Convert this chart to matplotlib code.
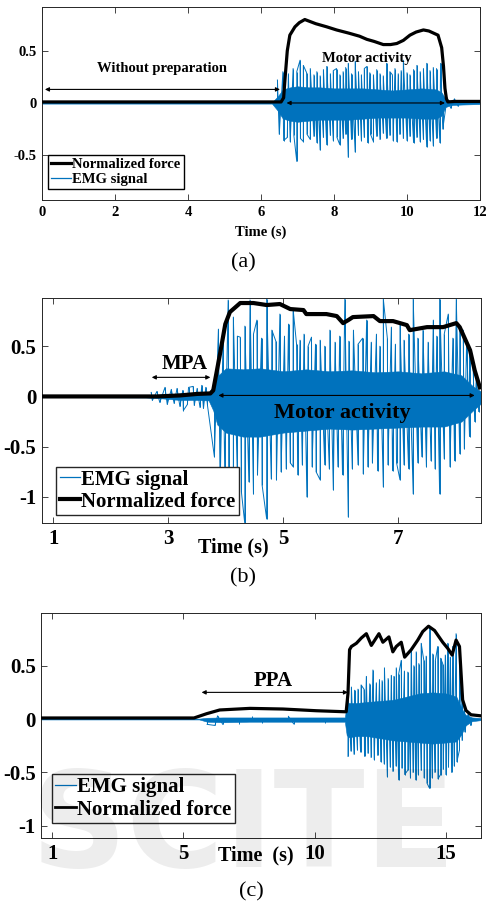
import numpy as np
import matplotlib
matplotlib.use('Agg')
import matplotlib.pyplot as plt
from matplotlib.lines import Line2D

plt.rcParams['font.family'] = ['Liberation Serif', 'DejaVu Serif']
plt.rcParams['axes.unicode_minus'] = False

EMG_COLOR = '#0072BD'
W, H = 486, 907

# ---------------- panel (a) ----------------
force_t_a = [0, 6.55, 6.62, 6.66, 6.72, 6.79, 6.93, 7.05, 7.2, 7.5, 7.8, 8.07, 8.4, 8.7, 8.9, 9.1,
             9.35, 9.55, 9.72, 9.9, 10.08, 10.25, 10.45, 10.6, 10.85, 10.95, 11.0, 11.04, 11.08,
             11.12, 11.3, 12.0]
force_v_a = [0.01, 0.01, 0.05, 0.24, 0.50, 0.65, 0.73, 0.77, 0.80, 0.76, 0.73, 0.70, 0.67, 0.64,
             0.61, 0.59, 0.56, 0.56, 0.57, 0.60, 0.65, 0.68, 0.70, 0.69, 0.65, 0.53, 0.35, 0.14,
             0.04, 0.01, 0.015, 0.015]
env_t_a = [0.0, 6.3, 6.45, 6.6, 6.8, 7.0, 7.3, 7.6, 8.0, 8.4, 8.8, 9.2, 9.6, 10.0, 10.4, 10.8,
           10.95, 11.05, 11.2, 11.5, 12.0]
env_hi_a = [0.006, 0.006, 0.06, 0.13, 0.15, 0.16, 0.15, 0.15, 0.14, 0.14, 0.14, 0.13, 0.12, 0.13,
            0.14, 0.13, 0.10, 0.04, 0.02, 0.015, 0.01]
env_lo_a = [-0.006, -0.006, -0.07, -0.15, -0.17, -0.18, -0.17, -0.16, -0.16, -0.16, -0.15, -0.14,
            -0.14, -0.14, -0.15, -0.15, -0.12, -0.04, -0.02, -0.015, -0.01]
spikes_a = [(6.45, 0.22), (6.6, 0.30), (6.75, 0.28), (6.88, 0.33), (6.98, 0.30), (7.07, 0.41),
            (7.16, 0.36), (7.25, 0.29), (7.35, 0.33), (7.45, 0.27), (7.53, 0.30), (7.62, 0.26),
            (7.71, 0.32), (7.8, 0.35), (7.9, 0.28), (7.98, 0.31), (8.07, 0.33), (8.16, 0.27),
            (8.25, 0.30), (8.32, 0.34), (8.39, 0.38), (8.48, 0.28), (8.58, 0.40), (8.67, 0.30),
            (8.75, 0.27), (8.83, 0.33), (8.9, 0.35), (8.98, 0.29), (9.08, 0.27), (9.17, 0.32),
            (9.26, 0.28), (9.35, 0.26), (9.44, 0.38), (9.53, 0.30), (9.6, 0.27), (9.67, 0.33),
            (9.76, 0.28), (9.84, 0.31), (9.9, 0.41), (10.0, 0.29), (10.08, 0.27), (10.18, 0.32),
            (10.27, 0.36), (10.36, 0.30), (10.45, 0.33), (10.54, 0.38), (10.63, 0.31),
            (10.72, 0.34), (10.81, 0.33), (10.92, 0.38),
            (6.5, -0.30), (6.62, -0.36), (6.72, -0.33), (6.8, -0.37), (6.9, -0.31), (6.98, -0.56),
            (7.08, -0.34), (7.16, -0.37), (7.26, -0.30), (7.35, -0.35), (7.45, -0.32), (7.53, -0.38),
            (7.62, -0.45), (7.71, -0.33), (7.8, -0.40), (7.9, -0.31), (7.98, -0.36), (8.08, -0.33),
            (8.16, -0.40), (8.25, -0.34), (8.32, -0.30), (8.39, -0.52), (8.48, -0.35), (8.58, -0.47),
            (8.67, -0.31), (8.75, -0.36), (8.83, -0.33), (8.92, -0.38), (9.0, -0.30), (9.08, -0.37),
            (9.17, -0.32), (9.26, -0.35), (9.35, -0.29), (9.44, -0.34), (9.53, -0.31), (9.62, -0.36),
            (9.72, -0.37), (9.8, -0.30), (9.9, -0.34), (10.0, -0.36), (10.08, -0.32), (10.18, -0.38),
            (10.27, -0.33), (10.36, -0.37), (10.45, -0.35), (10.54, -0.42), (10.63, -0.36),
            (10.72, -0.41), (10.81, -0.34), (10.9, -0.38), (10.98, -0.25),
            (11.1, 0.05), (11.2, -0.05), (11.3, 0.04), (11.4, -0.03)]

# ---------------- panel (b) ----------------
force_t_b = [0.8, 2.8, 3.2, 3.5, 3.73, 3.78, 3.9, 3.99, 4.07, 4.25, 4.48, 4.71, 4.94, 5.12, 5.35,
             5.4, 5.75, 5.93, 6.04, 6.13, 6.21, 6.57, 6.68, 6.91, 7.15, 7.2, 7.5, 7.78, 8.01, 8.07,
             8.25, 8.33, 8.42]
force_v_b = [0.0, 0.0, 0.01, 0.025, 0.03, 0.06, 0.43, 0.72, 0.84, 0.93, 0.93, 0.91, 0.92, 0.87,
             0.86, 0.82, 0.82, 0.80, 0.73, 0.76, 0.79, 0.80, 0.75, 0.75, 0.71, 0.66, 0.69, 0.69,
             0.73, 0.69, 0.46, 0.26, 0.09]
env_t_b = [0.8, 2.6, 2.9, 3.2, 3.5, 3.7, 3.78, 3.85, 4.0, 4.3, 4.6, 5.0, 5.4, 5.8, 6.2, 6.6, 7.0,
           7.4, 7.8, 8.1, 8.3, 8.44]
env_hi_b = [0.006, 0.01, 0.02, 0.03, 0.035, 0.035, 0.1, 0.2, 0.28, 0.27, 0.28, 0.25, 0.27, 0.25,
            0.26, 0.24, 0.25, 0.23, 0.25, 0.21, 0.1, 0.05]
env_lo_b = [-0.006, -0.01, -0.02, -0.035, -0.035, -0.04, -0.14, -0.28, -0.36, -0.40, -0.40, -0.36,
            -0.34, -0.32, -0.33, -0.32, -0.31, -0.30, -0.30, -0.25, -0.14, -0.07]
spikes_b = [(2.7, 0.04), (2.8, 0.05), (2.94, 0.09), (3.05, 0.07), (3.15, 0.08), (3.25, 0.06),
            (3.35, 0.09), (3.43, 0.10), (3.5, 0.08), (3.58, 0.11), (3.65, 0.09),
            (2.72, -0.04), (2.85, -0.06), (2.98, -0.08), (3.1, -0.07), (3.2, -0.10), (3.26, -0.14),
            (3.33, -0.08), (3.45, -0.09), (3.55, -0.11), (3.61, -0.12), (3.68, -0.09),
            (3.87, 0.67), (3.95, 0.55), (4.04, 0.96), (4.13, 0.79), (4.2, 0.60), (4.25, 0.59),
            (4.33, 0.70), (4.42, 0.96), (4.48, 0.62), (4.54, 0.76), (4.62, 0.58), (4.71, 0.97),
            (4.80, 0.66), (4.87, 0.55), (4.94, 0.82), (5.02, 0.60), (5.09, 0.72), (5.17, 0.87),
            (5.23, 0.52), (5.29, 0.56), (5.36, 0.62), (5.43, 0.50), (5.49, 0.59), (5.56, 0.52),
            (5.64, 0.56), (5.72, 0.50), (5.81, 0.66), (5.9, 0.54), (5.98, 0.60), (6.07, 0.97),
            (6.14, 0.55), (6.22, 0.66), (6.3, 0.52), (6.38, 0.58), (6.45, 0.76), (6.53, 0.54),
            (6.62, 0.62), (6.68, 0.50), (6.74, 0.97), (6.81, 0.58), (6.88, 0.69), (6.95, 0.52),
            (7.03, 0.72), (7.1, 0.56), (7.18, 0.62), (7.26, 0.97), (7.34, 0.58), (7.43, 0.66),
            (7.52, 0.54), (7.61, 0.76), (7.67, 0.60), (7.72, 0.97), (7.8, 0.62), (7.87, 0.82),
            (7.95, 0.58), (8.01, 0.97), (8.07, 0.66), (8.13, 0.66), (8.19, 0.55), (8.24, 0.49),
            (8.3, 0.35), (8.36, 0.23),
            (3.80, -0.6), (3.9, -0.90), (3.98, -0.75), (4.05, -0.85), (4.13, -1.13), (4.2, -0.80),
            (4.27, -0.95), (4.33, -1.27), (4.4, -0.85), (4.48, -0.97), (4.55, -0.78), (4.63, -0.88),
            (4.71, -1.22), (4.79, -0.82), (4.88, -0.83), (4.96, -0.75), (5.05, -0.72), (5.12, -0.66),
            (5.17, -0.70), (5.25, -0.78), (5.33, -0.68), (5.41, -1.0), (5.5, -0.70), (5.57, -0.75),
            (5.64, -0.83), (5.72, -0.68), (5.8, -0.72), (5.87, -0.93), (5.95, -0.70), (6.03, -0.78),
            (6.13, -1.20), (6.2, -0.72), (6.3, -0.68), (6.39, -0.77), (6.47, -0.70), (6.55, -0.66),
            (6.64, -0.74), (6.74, -0.90), (6.82, -0.68), (6.9, -0.74), (6.97, -0.66), (7.03, -0.83),
            (7.1, -0.68), (7.18, -0.72), (7.26, -0.97), (7.34, -0.66), (7.41, -0.60), (7.49, -0.70),
            (7.57, -0.64), (7.64, -0.72), (7.72, -0.97), (7.8, -0.62), (7.9, -0.70), (7.98, -0.64),
            (8.07, -0.57), (8.15, -0.52), (8.24, -0.40), (8.33, -0.25), (8.4, -0.15)]

# ---------------- panel (c) ----------------
force_t_c = [-0.42, 5.4, 5.88, 6.38, 7.53, 8.79, 10.06, 11.2, 11.27, 11.33, 11.4, 11.59, 11.78,
             11.97, 12.16, 12.45, 12.6, 12.83, 12.98, 13.11, 13.3, 13.43, 13.68, 13.93, 14.12,
             14.34, 14.57, 14.88, 15.08, 15.24, 15.39, 15.52, 15.64, 15.77, 15.96, 16.34]
force_v_c = [0.01, 0.01, 0.05, 0.085, 0.10, 0.094, 0.078, 0.068, 0.24, 0.65, 0.68, 0.71, 0.76,
             0.80, 0.69, 0.80, 0.72, 0.77, 0.63, 0.68, 0.72, 0.58, 0.65, 0.74, 0.82, 0.87, 0.83,
             0.72, 0.66, 0.60, 0.74, 0.68, 0.18, 0.08, 0.04, 0.03]
env_t_c = [-0.42, 5.6, 5.9, 6.5, 7.5, 8.5, 9.5, 10.5, 11.15, 11.22, 11.3, 11.6, 12.0, 12.5, 13.0,
           13.5, 14.0, 14.5, 15.0, 15.4, 15.6, 15.75, 16.0, 16.34]
env_hi_c = [0.004, 0.004, 0.012, 0.015, 0.015, 0.015, 0.015, 0.015, 0.015, 0.13, 0.15, 0.15, 0.16,
            0.17, 0.18, 0.21, 0.24, 0.25, 0.24, 0.21, 0.1, 0.04, 0.015, 0.01]
env_lo_c = [-0.004, -0.004, -0.025, -0.03, -0.025, -0.025, -0.025, -0.025, -0.025, -0.15, -0.17,
            -0.16, -0.16, -0.18, -0.20, -0.21, -0.22, -0.23, -0.22, -0.21, -0.14, -0.06, -0.02, -0.01]
spikes_c = [(5.9, -0.05), (6.2, -0.06), (6.5, -0.05), (7.1, -0.045), (8.0, -0.04), (9.2, -0.045),
            (10.4, -0.04), (6.3, 0.03), (7.6, 0.03), (9.0, 0.025),
            (11.27, 0.27), (11.4, 0.30), (11.52, 0.27), (11.65, 0.28), (11.77, 0.32), (11.88, 0.28),
            (11.97, 0.40), (12.1, 0.33), (12.22, 0.46), (12.35, 0.34), (12.47, 0.37), (12.57, 0.36),
            (12.66, 0.48), (12.8, 0.38), (12.92, 0.41), (13.02, 0.40), (13.11, 0.48), (13.2, 0.42),
            (13.30, 0.55), (13.42, 0.45), (13.55, 0.44), (13.68, 0.65), (13.78, 0.50), (13.87, 0.63),
            (13.97, 0.52), (14.06, 0.71), (14.16, 0.55), (14.25, 0.59), (14.38, 0.86), (14.5, 0.61),
            (14.6, 0.55), (14.69, 0.68), (14.8, 0.57), (14.88, 0.52), (14.98, 0.60), (15.07, 0.71),
            (15.17, 0.58), (15.26, 0.68), (15.39, 0.80), (15.52, 0.52), (15.62, 0.2), (15.71, 0.08),
            (11.27, -0.35), (11.38, -0.30), (11.5, -0.33), (11.63, -0.29), (11.75, -0.31),
            (11.9, -0.35), (12.03, -0.32), (12.15, -0.36), (12.27, -0.38), (12.4, -0.34),
            (12.52, -0.40), (12.65, -0.42), (12.77, -0.54), (12.88, -0.45), (12.98, -0.49),
            (13.1, -0.44), (13.2, -0.57), (13.32, -0.46), (13.43, -0.52), (13.55, -0.48),
            (13.65, -0.55), (13.75, -0.50), (13.85, -0.57), (13.95, -0.52), (14.06, -0.48),
            (14.17, -0.55), (14.28, -0.60), (14.38, -0.65), (14.48, -0.55), (14.58, -0.50),
            (14.7, -0.56), (14.8, -0.52), (14.9, -0.47), (15.0, -0.52), (15.1, -0.45),
            (15.22, -0.50), (15.32, -0.44), (15.42, -0.40), (15.52, -0.29), (15.62, -0.2),
            (15.72, -0.12), (15.85, 0.05), (15.95, -0.06)]


def px_axes(fig, left, right, top, bottom):
    return fig.add_axes([left / W, 1 - bottom / H, (right - left) / W, (bottom - top) / H])


def style_axes(ax, fs):
    ax.tick_params(direction='in', length=4, width=0.6, top=True, right=True,
                   color='#262626', labelsize=fs, pad=4)
    for lab in ax.get_xticklabels() + ax.get_yticklabels():
        lab.set_fontweight('bold')
    for s in ax.spines.values():
        s.set_linewidth(0.7)
        s.set_color('#262626')


def draw_emg(ax, env_t, env_hi, env_lo, spikes):
    # dense core of the signal plus the read-off peaks joined as a trace
    ax.fill_between(env_t, env_lo, env_hi, color=EMG_COLOR, linewidth=0.4, zorder=2)
    pts = sorted(spikes)
    xs, ys = [], []
    for i, (t, v) in enumerate(pts):
        if i and t - pts[i - 1][0] > 0.3:
            xs.append(np.nan)
            ys.append(np.nan)
        xs.append(t)
        ys.append(v)
    ax.plot(xs, ys, color=EMG_COLOR, lw=0.7, zorder=2)
    ax.vlines([p[0] for p in pts], 0, [p[1] for p in pts], color=EMG_COLOR, lw=0.7, zorder=2)


def arrow(ax, x0, x1, y, lw=0.8):
    ax.annotate('', xy=(x1, y), xytext=(x0, y),
                arrowprops=dict(arrowstyle='<|-|>', color='black', lw=lw,
                                mutation_scale=6, shrinkA=0, shrinkB=0), zorder=5)


fig = plt.figure(figsize=(W / 100, H / 100), dpi=100)

# (a)
ax = px_axes(fig, 42, 480, 7, 200)
draw_emg(ax, env_t_a, env_hi_a, env_lo_a, spikes_a)
ax.plot(force_t_a, force_v_a, color='black', lw=2.3, zorder=3)
ax.set_xlim(0, 12)
ax.set_ylim(-0.93, 0.92)
ax.set_xticks(range(0, 13, 2))
ax.set_yticks([-0.5, 0, 0.5])
ax.set_yticklabels(['-0.5', '0', '0.5'])
style_axes(ax, 10.5)
arrow(ax, 0.08, 6.52, 0.13)
arrow(ax, 6.7, 11.04, 0.0)
ax.text(3.3, 0.33, 'Without preparation', fontsize=10.5, fontweight='bold', ha='center', va='center')
ax.text(8.9, 0.43, 'Motor activity', fontsize=10.5, fontweight='bold', ha='center', va='center')
handles = [Line2D([], [], color='black', lw=2.3), Line2D([], [], color=EMG_COLOR, lw=0.9)]
ax.legend(handles, ['Normalized force', 'EMG signal'], loc='lower left',
          bbox_to_anchor=(0.013, 0.057), borderaxespad=0, fancybox=False, edgecolor='black',
          framealpha=1, handlelength=1.4, handletextpad=0.1, labelspacing=0.1, borderpad=0.2,
          prop={'weight': 'bold', 'size': 10.5})
fig.text(261 / W, 1 - 232 / H, 'Time (s)', fontsize=10.5, fontweight='bold', ha='center', va='center')
fig.text(243 / W, 1 - 263 / H, '(a)', fontsize=16, ha='center', va='center')

# (b)
ax = px_axes(fig, 42, 481, 298, 523)
draw_emg(ax, env_t_b, env_hi_b, env_lo_b, spikes_b)
ax.plot(force_t_b, force_v_b, color='black', lw=3.0, zorder=3)
ax.set_xlim(0.8, 8.44)
ax.set_ylim(-1.26, 0.98)
ax.set_xticks([1, 3, 5, 7])
ax.set_yticks([-1, -0.5, 0, 0.5])
ax.set_yticklabels(['-1', '-0.5', '0', '0.5'])
style_axes(ax, 15)
arrow(ax, 2.71, 3.73, 0.19)
arrow(ax, 3.87, 8.33, 0.01)
ax.text(3.29, 0.32, 'MPA', fontsize=15, fontweight='bold', ha='center', va='center', zorder=6)
ax.text(6.02, -0.16, 'Motor activity', fontsize=16, fontweight='bold', ha='center', va='center', zorder=6)
handles = [Line2D([], [], color=EMG_COLOR, lw=0.9), Line2D([], [], color='black', lw=3.0)]
ax.legend(handles, ['EMG signal', 'Normalized force'], loc='lower left',
          bbox_to_anchor=(0.033, 0.036), borderaxespad=0, fancybox=False, edgecolor='#262626',
          framealpha=1, handlelength=1.0, handletextpad=0.05, labelspacing=0.1, borderpad=0.15,
          prop={'weight': 'bold', 'size': 15})
fig.text(233 / W, 1 - 547 / H, 'Time (s)', fontsize=14.5, fontweight='bold', ha='center', va='center')
fig.text(243 / W, 1 - 578 / H, '(b)', fontsize=16, ha='center', va='center')

# (c)
ax = px_axes(fig, 41.3, 481, 613, 838)
draw_emg(ax, env_t_c, env_hi_c, env_lo_c, spikes_c)
ax.plot(force_t_c, force_v_c, color='black', lw=2.3, zorder=3)
ax.set_xlim(-0.42, 16.34)
ax.set_ylim(-1.115, 0.994)
ax.set_xticks([0, 5, 10, 15])
ax.set_xticklabels(['1', '5', '10', '15'])
ax.set_yticks([-1, -0.5, 0, 0.5])
ax.set_yticklabels(['-1', '-0.5', '0', '0.5'])
style_axes(ax, 15)
arrow(ax, 5.69, 11.27, 0.25)
ax.text(8.41, 0.36, 'PPA', fontsize=15, fontweight='bold', ha='center', va='center')
handles = [Line2D([], [], color=EMG_COLOR, lw=0.9), Line2D([], [], color='black', lw=2.0)]
ax.legend(handles, ['EMG signal', 'Normalized force'], loc='lower left',
          bbox_to_anchor=(0.025, 0.068), borderaxespad=0, fancybox=False, edgecolor='#262626',
          framealpha=1, handlelength=1.0, handletextpad=0.05, labelspacing=0.1, borderpad=0.15,
          prop={'weight': 'bold', 'size': 15})
fig.text(256 / W, 1 - 855 / H, 'Time  (s)', fontsize=14.5, fontweight='bold', ha='center', va='center')
fig.text(251 / W, 1 - 892 / H, '(c)', fontsize=16, ha='center', va='center')

# faint watermark across the bottom panel
fig.text(0.5, 1 - 830 / H, 'SCITE', fontsize=96, fontweight='bold', family='DejaVu Sans',
         color='black', alpha=0.07, ha='center', va='center', zorder=10)

fig.savefig('out.png', dpi=100)
